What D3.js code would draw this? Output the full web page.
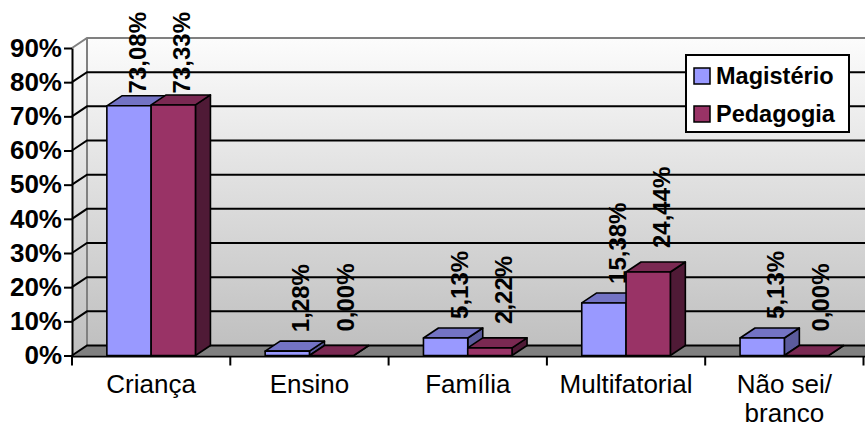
<!DOCTYPE html>
<html>
<head>
<meta charset="utf-8">
<script src="https://cdn.jsdelivr.net/npm/d3@7"></script>
<style>
  html, body { margin: 0; padding: 0; background: #fff; }
  svg { display: block; }
  svg text { font-family: "Liberation Sans", Arial, sans-serif; }
</style>
</head>
<body>
<svg id="chart" width="865" height="428"></svg>
<script>
// Categories and values (percent)
const categories = ["Criança", "Ensino", "Família", "Multifatorial", "Não sei/ branco"];
const seriesNames = ["Magistério", "Pedagogia"];
const magisterio = [73.08, 1.28, 5.13, 15.38, 5.13];
const pedagogia  = [73.33, 0.00, 2.22, 24.44, 0.00];
const yTicks = [0, 10, 20, 30, 40, 50, 60, 70, 80, 90];

const seriesValues = [magisterio, pedagogia];
const colors = {
  "Magistério": { front: "#9999FF", top: "#7373C4", side: "#5B5B9C" },
  "Pedagogia":  { front: "#993366", top: "#7A2952", side: "#4F1A36" }
};

const W = 865, H = 428;
const depthX = 15, depthY = -10;
const left = 72, right = 72 + 5 * 158.3;
const FONT = "'Liberation Sans', Arial, sans-serif";
const labelTopLimit = 12;

const svg = d3.select("#chart");

const y = d3.scaleLinear().domain([0, 90]).range([355.5, 48]);
const x = d3.scaleBand().domain(categories).range([left, right]).padding(0);
const xInner = d3.scaleBand().domain(seriesNames).range([0, x.bandwidth()])
  .paddingInner(0).paddingOuter(0.787);

// wall shading
const defs = svg.append("defs");
const grad = defs.append("linearGradient").attr("id", "wallGrad")
  .attr("gradientUnits", "userSpaceOnUse")
  .attr("x1", 0).attr("y1", y(90) + depthY).attr("x2", 0).attr("y2", y(0));
grad.append("stop").attr("offset", "0%").attr("stop-color", "#FCFCFC");
grad.append("stop").attr("offset", "100%").attr("stop-color", "#BEBEBE");

const y0 = y(0), yTop = y(90);

// floor
svg.append("polygon")
  .attr("points", [[left, y0], [left + depthX, y0 + depthY], [W + 20, y0 + depthY], [W + 20, y0]].join(" "))
  .attr("fill", "#808080");

// back wall
svg.append("rect")
  .attr("x", left + depthX).attr("y", yTop + depthY)
  .attr("width", W - left - depthX + 10).attr("height", y0 - yTop)
  .attr("fill", "url(#wallGrad)");

// side wall
svg.append("polygon")
  .attr("points", [[left, yTop], [left + depthX, yTop + depthY], [left + depthX, y0 + depthY], [left, y0]].join(" "))
  .attr("fill", "url(#wallGrad)");

// wall edges
svg.append("path")
  .attr("d", `M${left},${yTop}L${left + depthX},${yTop + depthY}L${W + 10},${yTop + depthY}M${left + depthX},${yTop + depthY}L${left + depthX},${y0 + depthY}`)
  .attr("fill", "none").attr("stroke", "#808080").attr("stroke-width", 2);

// gridlines (side diagonal + back wall)
svg.append("g").selectAll("path")
  .data(yTicks.filter(d => d < 90))
  .join("path")
  .attr("d", d => `M${left},${y(d)}L${left + depthX},${y(d) + depthY}L${W + 10},${y(d) + depthY}`)
  .attr("fill", "none").attr("stroke", "#000").attr("stroke-width", 2);

// 3D bars
const bars = [];
categories.forEach((c, i) => {
  seriesNames.forEach((s, j) => {
    bars.push({ cat: c, series: s, si: j, value: seriesValues[j][i] });
  });
});

const barG = svg.append("g");
bars.forEach(b => {
  const x0 = x(b.cat) + xInner(b.series);
  const x1 = x0 + xInner.bandwidth();
  const yt = y(b.value);
  const col = colors[b.series];
  const g = barG.append("g").attr("stroke", "#000").attr("stroke-width", 1.6).attr("stroke-linejoin", "round");
  g.append("polygon")
    .attr("points", [[x1, yt], [x1 + depthX, yt + depthY], [x1 + depthX, y0 + depthY], [x1, y0]].join(" "))
    .attr("fill", col.side);
  g.append("polygon")
    .attr("points", [[x0, yt], [x0 + depthX, yt + depthY], [x1 + depthX, yt + depthY], [x1, yt]].join(" "))
    .attr("fill", col.top);
  if (y0 - yt > 0.5) {
    g.append("rect")
      .attr("x", x0).attr("y", yt).attr("width", x1 - x0).attr("height", y0 - yt)
      .attr("fill", col.front);
  }
});

// value labels (rotated), kept inside the chart area at the top
const fmt = v => v.toFixed(2).replace(".", ",") + "%";
const gaps = [9, 14];
svg.append("g").selectAll("text")
  .data(bars)
  .join("text")
  .attr("font-family", FONT)
  .attr("font-size", 24).attr("font-weight", "bold").attr("fill", "#000")
  .text(b => fmt(b.value))
  .attr("transform", function (b) {
    const len = this.getComputedTextLength();
    let cy = y(b.value) + depthY - gaps[b.si];
    const clamped = cy - len < labelTopLimit;
    if (clamped) cy = labelTopLimit + len;
    const cx = x(b.cat) + xInner(b.series) + xInner.bandwidth() / 2
      + (clamped ? depthX / 2 + 1 : depthX - 1.5) + 8.6;
    return `translate(${cx},${cy}) rotate(-90)`;
  });

// left value axis
const yAxis = d3.axisLeft(y).tickValues(yTicks).tickFormat(d => d + "%")
  .tickSize(8).tickSizeOuter(0).tickPadding(2);
const ya = svg.append("g").attr("transform", `translate(${left},0)`).call(yAxis);
ya.attr("font-family", FONT);
ya.select(".domain").attr("stroke", "#000").attr("stroke-width", 2);
ya.selectAll(".tick line").attr("stroke", "#000").attr("stroke-width", 2);
ya.selectAll(".tick text")
  .attr("font-size", 26).attr("font-weight", "bold").attr("fill", "#000")
  .attr("font-family", FONT);

// bottom category axis
svg.append("line")
  .attr("x1", left).attr("x2", W + 10).attr("y1", y0 + 1).attr("y2", y0 + 1)
  .attr("stroke", "#000").attr("stroke-width", 2);
svg.append("g").selectAll("line")
  .data(d3.range(categories.length + 1))
  .join("line")
  .attr("x1", i => left + i * x.step()).attr("x2", i => left + i * x.step())
  .attr("y1", y0 + 1).attr("y2", y0 + 10)
  .attr("stroke", "#000").attr("stroke-width", 2);

const catLabels = svg.append("g").selectAll("text")
  .data(categories)
  .join("text")
  .attr("x", c => x(c) + x.bandwidth() / 2)
  .attr("y", 393)
  .attr("text-anchor", "middle")
  .attr("font-family", FONT)
  .attr("font-size", 26).attr("fill", "#000");
catLabels.each(function (c) {
  const lines = c.split(/(?<=\/)\s/);
  const t = d3.select(this);
  lines.forEach((ln, k) => {
    t.append("tspan")
      .attr("x", x(c) + x.bandwidth() / 2)
      .attr("dy", k === 0 ? 0 : 29)
      .text(ln);
  });
});

// legend
const lg = svg.append("g");
lg.append("rect").attr("x", 686).attr("y", 55).attr("width", 163).attr("height", 77)
  .attr("fill", "#fff").attr("stroke", "#000").attr("stroke-width", 2);
seriesNames.forEach((s, k) => {
  const yy = 68 + k * 38;
  lg.append("rect").attr("x", 694).attr("y", yy).attr("width", 16).attr("height", 16)
    .attr("fill", colors[s].front).attr("stroke", "#000").attr("stroke-width", 1.5);
  lg.append("text").attr("x", 716).attr("y", yy + 15.5)
    .attr("font-family", FONT)
    .attr("font-size", 23.5).attr("font-weight", "bold").attr("fill", "#000")
    .text(s);
});
</script>
</body>
</html>
